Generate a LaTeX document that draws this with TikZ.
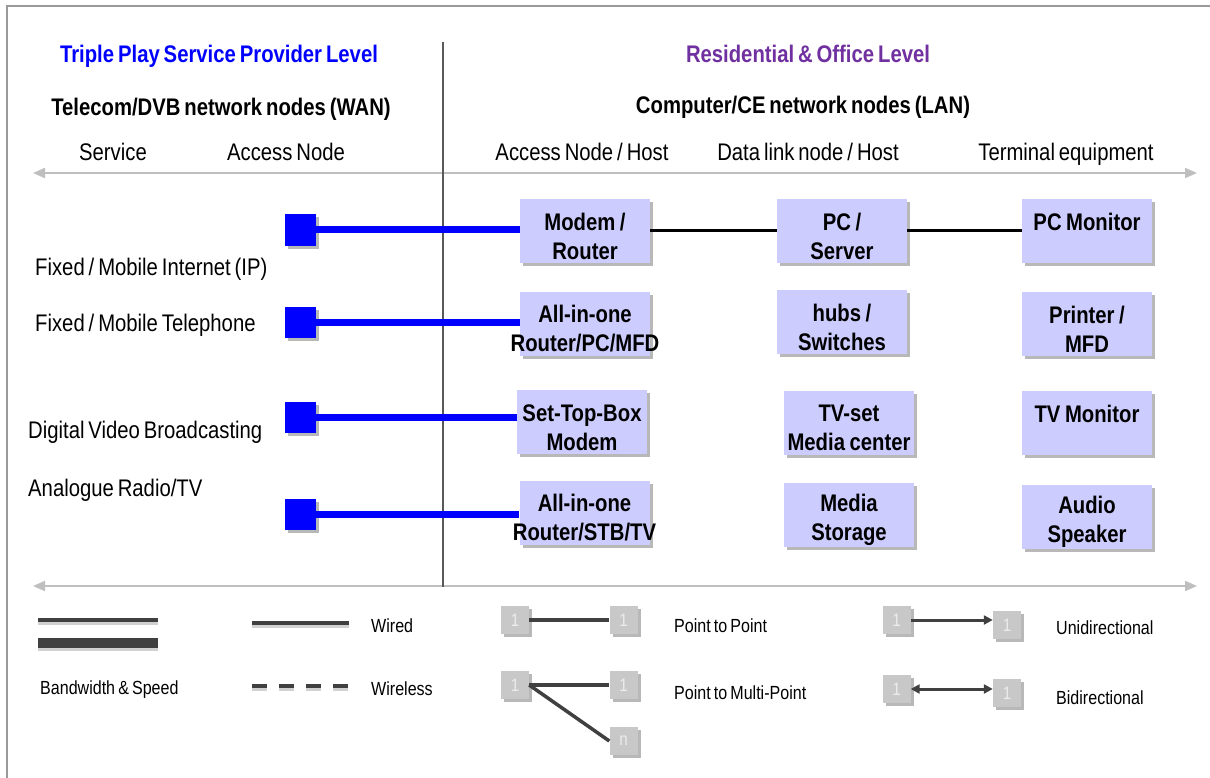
\documentclass[tikz,border=0pt]{standalone}
\usepackage{fontspec}
\setmainfont{Liberation Sans}[FakeStretch=0.845,WordSpace=0.7]
\usetikzlibrary{arrows.meta,shadows}
\definecolor{boxfill}{HTML}{CCCCFF}
\definecolor{tpblue}{HTML}{0000FF}
\definecolor{respurple}{HTML}{7030A0}
\definecolor{axisgray}{HTML}{BFBFBF}
\definecolor{divgray}{HTML}{595959}
\definecolor{leggray}{HTML}{404040}
\definecolor{sqgray}{HTML}{C8C8C8}
\definecolor{framegray}{HTML}{9A9A9A}
\newcommand\fullline[1]{\hbox to 124pt{\hss #1\hss}}
\begin{document}
\begin{tikzpicture}[x=1pt,y=-1pt,
  shade/.style={drop shadow={shadow xshift=3pt,shadow yshift=-3pt,fill=black,opacity=0.28}},
  txt/.style={inner sep=0pt,font=\fontsize{24}{29}\selectfont,text height=17pt,text depth=0pt},
  btxt/.style={txt,font=\bfseries\fontsize{24}{29}\selectfont},
  ltxt/.style={inner sep=0pt,anchor=west,font=\fontsize{19}{24}\selectfont,text height=14pt,text depth=0pt},
  devbox/.style={fill=boxfill,shade,minimum width=130pt,minimum height=64pt,text width=124pt,
    inner xsep=3pt,inner ysep=0pt,align=center,font=\bfseries\fontsize{24}{29}\selectfont,
    execute at begin node={\spaceskip=0.19em\xspaceskip=0.19em\rule{0pt}{28pt}}},
  bsq/.style={fill=tpblue,shade,minimum width=31pt,minimum height=31pt,inner sep=0pt},
  blueline/.style={draw=tpblue,line width=7pt},
  wire/.style={draw=black,line width=3pt},
  axis/.style={draw=axisgray,line width=2pt,{Triangle[length=12pt,width=10pt]}-{Triangle[length=12pt,width=10pt]}},
  lsq/.style={fill=sqgray,shade,minimum width=28pt,minimum height=28pt,inner sep=0pt,
    text=white!85!gray,font=\fontsize{18}{18}\selectfont},
  legline/.style={draw=leggray,line width=3.5pt},
  legshadow/.style={draw=black!18,line width=4pt},
]
\useasboundingbox (0,0) rectangle (1210,778);
\fill[white] (0,0) rectangle (1210,778);
% frame
\coordinate (fbl) at (7,778);
\coordinate (ftl) at (7,6);
\coordinate (ftr) at (1210,6);
\draw[framegray,line width=2pt] (fbl) -- (ftl) -- (ftr);

% headings
\node[btxt,text=tpblue] (h1) at (219,54) {Triple Play Service Provider Level};
\node[btxt,text=respurple] (h2) at (808,54) {Residential \& Office Level};
\node[btxt] (h3) at (221,107) {Telecom/DVB network nodes (WAN)};
\node[btxt] (h4) at (803,105) {Computer/CE network nodes (LAN)};
\node[txt] (c1) at (113,152) {Service};
\node[txt] (c2) at (286,152) {Access Node};
\node[txt] (c3) at (582,152) {Access Node / Host};
\node[txt] (c4) at (808,152) {Data link node / Host};
\node[txt] (c5) at (1066,152) {Terminal equipment};

% axes and divider
\coordinate (a1l) at (33,173);
\coordinate (a1r) at (1197,173);
\coordinate (a2l) at (33,586);
\coordinate (a2r) at (1197,586);
\draw[axis] (a1l) -- (a1r);
\draw[axis] (a2l) -- (a2r);
\coordinate (dvt) at (443,42);
\coordinate (dvb) at (443,587);
\draw[divgray,line width=2pt] (dvt) -- (dvb);

% services
\node[txt,anchor=west] (sv1) at (35,267) {Fixed / Mobile Internet (IP)};
\node[txt,anchor=west] (sv2) at (35,323) {Fixed / Mobile Telephone};
\node[txt,anchor=west] (sv3) at (28,430) {Digital Video Broadcasting};
\node[txt,anchor=west] (sv4) at (28,488) {Analogue Radio/TV};

% blue access squares
\node[bsq] (s1) at (300.5,230) {};
\node[bsq] (s2) at (300.5,322) {};
\node[bsq] (s3) at (300.5,417) {};
\node[bsq] (s4) at (300.5,514) {};

% device boxes
\node[devbox] (mr) at (585,231) {Modem /\\Router};
\node[devbox] (aio1) at (585,323.5) {All-in-one\\\fullline{Router/PC/MFD}};
\node[devbox] (stb) at (582,422) {Set-Top-Box\\Modem};
\node[devbox] (aio2) at (584.5,512.5) {All-in-one\\\fullline{Router/STB/TV}};
\node[devbox] (pcs) at (842,231) {PC /\\Server};
\node[devbox] (hub) at (842,322) {hubs /\\Switches};
\node[devbox] (tvs) at (849,422.5) {TV-set\\\fullline{Media center}};
\node[devbox] (mst) at (849,515) {Media\\Storage};
\node[devbox] (pcm) at (1087,231) {PC Monitor\\\phantom{M}};
\node[devbox] (prn) at (1087,324) {Printer /\\MFD};
\node[devbox] (tvm) at (1087,422.5) {TV Monitor\\\phantom{M}};
\node[devbox] (spk) at (1087,516.5) {Audio\\Speaker};

% connections
\draw[blueline] (s1.east) -- (s1.east -| mr.west);
\draw[blueline] (s2.east) -- (s2.east -| aio1.west);
\draw[blueline] (s3.east) -- (s3.east -| stb.west);
\draw[blueline] (s4.east) -- (s4.east -| aio2.west);
\draw[wire] (mr.east) -- (mr.east -| pcs.west);
\draw[wire] (pcs.east) -- (pcs.east -| pcm.west);

% legend: bandwidth
\coordinate (bw1l) at (38,620);
\coordinate (bw1r) at (158,620);
\coordinate (bw2l) at (38,643);
\coordinate (bw2r) at (158,643);
\draw[legshadow] ([yshift=-3pt]bw1l) -- ([yshift=-3pt]bw1r);
\draw[draw=black!18,line width=10pt] ([yshift=-3pt]bw2l) -- ([yshift=-3pt]bw2r);
\draw[legline] (bw1l) -- (bw1r);
\draw[draw=leggray,line width=10pt] (bw2l) -- (bw2r);
\node[ltxt] (bwt) at (40,687) {Bandwidth \& Speed};

% legend: wired / wireless
\coordinate (wdl) at (252,623);
\coordinate (wdr) at (349,623);
\coordinate (wll) at (252,686);
\coordinate (wlr) at (349,686);
\draw[legshadow] ([yshift=-3pt]wdl) -- ([yshift=-3pt]wdr);
\draw[legline] (wdl) -- (wdr);
\draw[legshadow,dash pattern=on 15pt off 12pt] ([yshift=-3pt]wll) -- ([yshift=-3pt]wlr);
\draw[legline,dash pattern=on 15pt off 12pt] (wll) -- (wlr);
\node[ltxt] (wdt) at (371,625) {Wired};
\node[ltxt] (wlt) at (371,688) {Wireless};

% legend: topology
\node[lsq] (pa) at (515,620) {1};
\node[lsq] (pb) at (623.5,620) {1};
\node[lsq] (ma) at (515,685) {1};
\node[lsq] (mb) at (623.5,685) {1};
\node[lsq] (mn) at (623.5,741) {n};
\draw[legline] (pa.east) -- (pb.west);
\draw[legline] (ma.east) -- (mb.west);
\draw[legline] (ma.east) -- (mn.west);
\node[ltxt] (ppt) at (674,625) {Point to Point};
\node[ltxt] (pmt) at (674,692) {Point to Multi-Point};

% legend: direction
\node[lsq] (ua) at (896.5,620) {1};
\node[lsq] (ub) at (1007,625) {1};
\node[lsq] (ba) at (896.5,689) {1};
\node[lsq] (bb) at (1007,693) {1};
\draw[legline,line width=3pt,-{Triangle[length=9pt,width=9pt]}] (ua.east) -- (ua.east -| ub.west);
\draw[legline,line width=3pt,{Triangle[length=9pt,width=9pt]}-{Triangle[length=9pt,width=9pt]}] (ba.east) -- (ba.east -| bb.west);
\node[ltxt] (udt) at (1056,627) {Unidirectional};
\node[ltxt] (bdt) at (1056,697) {Bidirectional};
\end{tikzpicture}
\end{document}
